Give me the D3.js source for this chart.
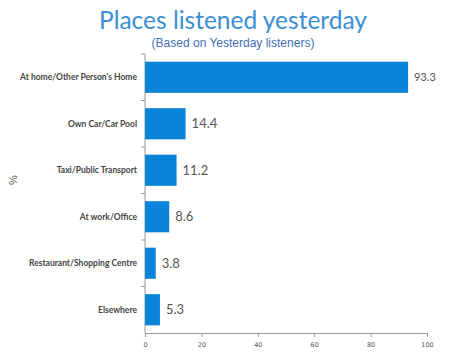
<!DOCTYPE html>
<html>
<head>
<meta charset="utf-8">
<script src="https://cdn.jsdelivr.net/npm/d3@7"></script>
<style>
  body { margin: 0; background: #fff; }
</style>
</head>
<body>
<div id="chart"></div>
<script>
// chart values
var categories = ["At home/Other Person's Home", "Own Car/Car Pool", "Taxi/Public Transport",
                  "At work/Office", "Restaurant/Shopping Centre", "Elsewhere"];
var values = [93.3, 14.4, 11.2, 8.6, 3.8, 5.3];
var xTicks = [0, 20, 40, 60, 80, 100];

var W = 450, H = 352;
var margin = { top: 54, right: 23, bottom: 19, left: 145 },
    width = W - margin.left - margin.right,
    height = H - margin.top - margin.bottom;

var svg = d3.select("#chart")
    .append("svg")
    .attr("width", W)
    .attr("height", H);

// titles
svg.append("text")
    .attr("x", 233).attr("y", 29)
    .attr("text-anchor", "middle")
    .style("font-family", "Lato, 'Open Sans', sans-serif")
    .style("font-size", "24.5px")
    .style("fill", "#3b8ed5")
    .text("Places listened yesterday");

svg.append("text")
    .attr("x", 233).attr("y", 47)
    .attr("text-anchor", "middle")
    .style("font-family", "'Liberation Sans', Arial, sans-serif")
    .style("font-size", "12px")
    .style("fill", "#3f6fb5")
    .text("(Based on Yesterday listeners)");

var g = svg.append("g")
    .attr("transform", "translate(" + margin.left + "," + margin.top + ")");

var x = d3.scaleLinear().domain([0, 100]).range([0, width]);
var y = d3.scaleBand().domain(categories).range([0, height]).paddingInner(0.33).paddingOuter(0.165);

// y axis line + ticks between bands
g.append("line")
    .attr("x1", 0).attr("x2", 0).attr("y1", 0).attr("y2", height)
    .attr("stroke", "#999");
var step = height / categories.length;
g.selectAll(".ytick")
    .data(d3.range(categories.length))
    .enter().append("line")
    .attr("x1", -4).attr("x2", 0)
    .attr("y1", function (d) { return d * step; })
    .attr("y2", function (d) { return d * step; })
    .attr("stroke", "#999");

// x axis
var xAxis = g.append("g")
    .attr("transform", "translate(0," + height + ")")
    .call(d3.axisBottom(x).tickValues(xTicks).tickSize(4).tickSizeOuter(0));
xAxis.select(".domain").attr("stroke", "#999");
xAxis.selectAll(".tick line").attr("stroke", "#999");
xAxis.selectAll("text")
    .style("font-family", "'DejaVu Sans', sans-serif")
    .style("font-size", "6.5px")
    .style("fill", "#555")
    .attr("dy", "1.1em");

// bars
g.selectAll(".bar")
    .data(values)
    .enter().append("rect")
    .attr("class", "bar")
    .attr("x", 0)
    .attr("y", function (d, i) { return y(categories[i]); })
    .attr("width", function (d) { return x(d); })
    .attr("height", y.bandwidth())
    .attr("fill", "#0a84d9");

// value labels
g.selectAll(".val")
    .data(values)
    .enter().append("text")
    .attr("x", function (d) { return x(d) + 6; })
    .attr("y", function (d, i) { return y(categories[i]) + y.bandwidth() / 2; })
    .attr("dy", "0.35em")
    .style("font-family", "Lato, 'Open Sans', sans-serif")
    .style("font-size", function (d, i) { return i === 0 ? "11px" : "13px"; })
    .style("fill", "#555")
    .text(function (d) { return d.toFixed(1); });

// category labels
g.selectAll(".cat")
    .data(categories)
    .enter().append("text")
    .attr("x", -8)
    .attr("y", function (d) { return y(d) + y.bandwidth() / 2; })
    .attr("dy", "0.35em")
    .attr("text-anchor", "end")
    .style("font-family", "Lato, 'Open Sans', sans-serif")
    .style("font-size", "8.5px")
    .style("font-weight", "bold")
    .style("fill", "#444")
    .text(function (d) { return d; });

// y title
svg.append("text")
    .attr("transform", "translate(17,180) rotate(-90)")
    .attr("text-anchor", "middle")
    .style("font-family", "'Liberation Sans', Arial, sans-serif")
    .style("font-size", "11px")
    .style("fill", "#555")
    .text("%");
</script>
</body>
</html>
